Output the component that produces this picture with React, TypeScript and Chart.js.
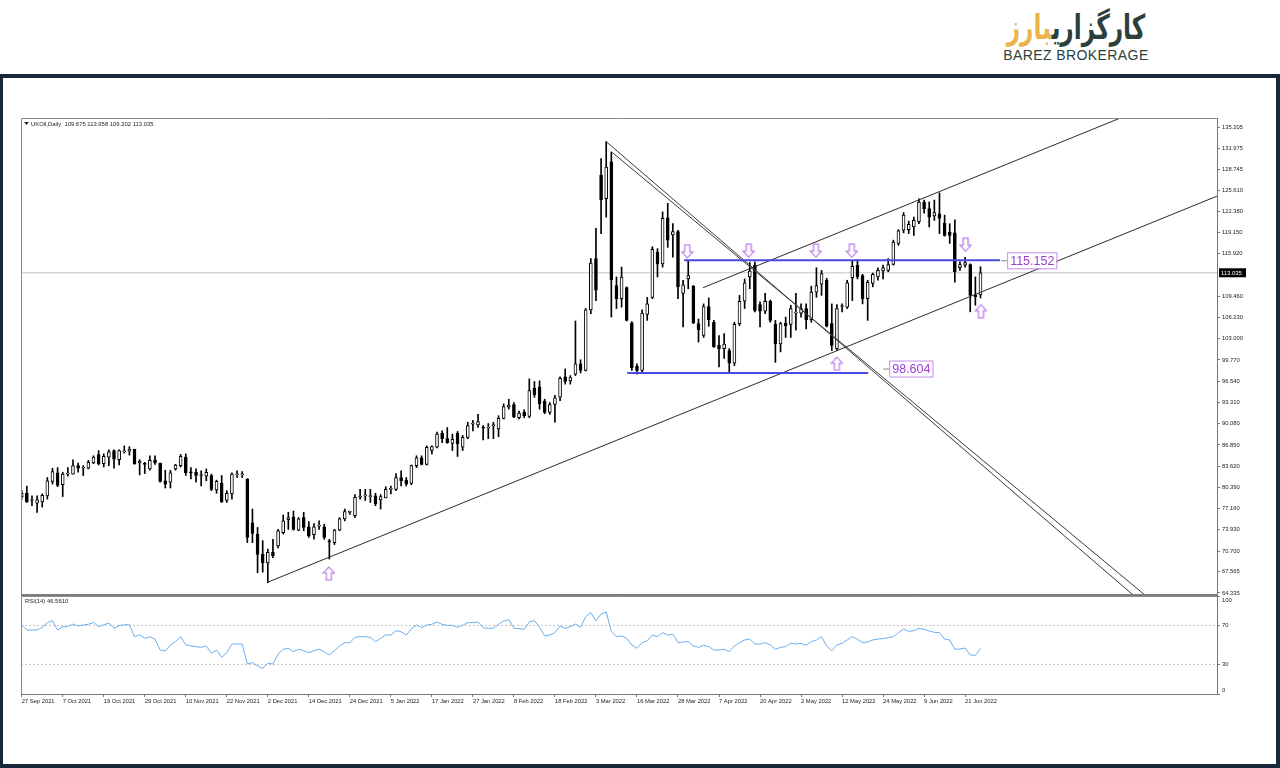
import React, { useEffect, useRef } from 'react';
import { Chart, registerables } from 'chart.js';
Chart.register(...registerables);

const FONT = '"Liberation Sans", Arial, sans-serif';

const opens = [79.0,79.5,78.4,78.0,78.2,79.1,81.3,82.6,80.8,82.4,
82.4,83.7,83.3,83.3,84.1,85.4,84.0,85.0,86.0,84.6,
85.8,85.9,86.2,84.1,84.0,83.2,84.6,84.1,81.4,81.2,
83.2,83.7,85.0,82.7,82.7,82.2,82.1,82.2,80.0,81.0,
78.4,79.4,82.3,82.3,81.7,75.0,73.3,70.2,68.9,70.5,
71.5,73.5,75.5,75.9,73.9,75.8,74.4,73.2,74.5,74.4,
72.2,72.0,73.9,75.6,76.6,76.1,78.9,79.1,79.0,79.1,
78.5,78.8,80.1,80.1,81.9,81.5,81.0,83.7,84.9,83.9,
86.0,86.5,88.6,87.8,87.1,88.6,86.5,88.0,90.0,89.9,
89.5,89.4,89.8,89.3,90.9,92.6,93.0,91.0,91.8,91.2,
95.5,95.7,93.5,91.8,93.0,94.1,97.2,96.6,97.6,99.2,
98.2,107.4,115.2,127.9,124.3,129.9,111.1,109.1,110.8,105.4,
98.8,98.2,106.7,109.3,116.2,114.4,121.4,118.8,119.3,109.9,
112.1,111.0,105.3,103.5,107.9,105.5,102.0,101.5,101.2,99.3,
105.3,108.7,112.4,114.2,108.2,107.2,108.7,105.2,102.2,105.4,
105.2,106.9,106.9,107.6,105.9,110.1,111.3,111.9,105.3,101.5,
107.9,107.8,112.3,114.2,112.6,109.1,111.4,112.4,113.3,113.4,
114.3,117.5,119.5,119.6,120.0,120.8,123.8,122.8,121.7,122.0,
120.6,119.2,119.1,113.8,114.2,114.3,109.7,109.675];

const highs = [79.9,80.6,79.1,79.1,79.4,81.9,83.3,83.4,82.7,83.4,
84.6,84.1,83.7,84.5,85.2,86.0,85.5,86.1,86.1,86.1,
86.7,86.6,86.2,84.6,84.2,85.2,85.2,84.1,83.0,83.0,
83.9,85.4,85.5,83.4,83.2,82.9,83.2,82.4,81.5,82.2,
79.9,82.6,82.9,82.8,81.7,77.1,74.3,72.3,71.0,72.5,
74.0,76.2,76.6,76.8,75.8,76.6,75.2,74.9,75.3,74.8,
72.5,74.0,75.8,77.1,76.8,79.3,80.1,80.1,80.1,79.5,
79.3,80.5,80.6,82.5,82.9,81.9,83.8,85.2,85.2,86.7,
86.7,88.8,89.0,89.5,88.5,88.9,88.3,90.3,90.6,91.5,
89.8,90.1,90.3,91.3,93.1,93.8,93.3,92.0,92.2,96.9,
96.5,96.6,93.8,93.3,94.4,97.2,98.4,97.4,105.7,99.8,
107.6,115.2,119.8,130.4,133.0,131.4,112.4,113.9,110.9,105.6,
99.2,107.4,109.3,117.0,116.7,122.3,123.6,120.5,119.5,111.9,
114.9,111.1,106.0,108.3,109.2,105.8,103.5,103.8,101.5,105.5,
109.6,112.1,114.6,114.7,108.6,109.9,108.9,105.8,105.5,106.3,
108.1,109.9,108.3,108.3,111.0,113.8,113.4,112.2,108.3,108.2,
108.3,111.9,114.8,115.0,112.8,111.9,113.0,113.8,114.2,115.2,
118.0,119.6,122.2,120.9,121.5,124.3,124.1,123.8,124.1,125.2,
121.8,120.5,121.1,114.7,115.4,114.4,112.4,113.958];

const lows = [78.6,78.1,77.6,76.6,77.4,78.6,80.9,80.5,79.0,82.1,
82.4,82.7,82.2,83.2,84.0,83.8,83.5,83.7,83.3,83.8,
85.6,85.3,83.9,82.3,82.5,83.0,83.9,81.2,80.3,80.3,
83.0,83.5,82.2,81.7,81.2,80.6,81.4,79.9,79.5,78.1,
78.1,78.6,81.9,81.9,72.0,72.0,67.4,67.5,65.9,69.7,
71.2,73.3,74.0,73.9,73.8,73.8,72.8,72.5,74.0,72.5,
69.5,71.7,73.8,75.3,76.3,75.8,78.6,78.4,78.1,77.6,
77.1,78.8,79.4,79.9,80.6,80.6,80.8,83.4,83.8,83.8,
85.5,86.4,87.2,87.1,86.0,85.1,86.0,87.8,89.0,89.5,
87.6,87.8,87.8,88.1,90.8,92.3,91.0,90.8,91.0,91.0,
94.1,92.3,91.6,91.5,90.3,93.6,96.1,96.1,97.4,97.8,
98.1,106.8,108.8,119.0,121.5,106.3,107.6,107.8,105.7,98.2,
97.6,97.7,105.8,109.1,112.4,113.9,116.9,115.4,109.1,104.8,
110.6,105.3,102.5,103.2,104.9,101.7,98.7,100.0,97.7,98.9,
105.0,107.6,110.6,107.1,104.8,106.8,105.5,99.4,101.0,103.2,
103.2,104.3,106.3,104.5,105.5,109.3,109.6,104.8,101.2,101.2,
107.1,107.6,108.8,112.1,108.3,105.8,110.9,111.9,112.1,113.2,
114.2,117.2,119.1,119.0,118.7,120.5,122.1,120.0,121.0,119.0,
118.6,117.5,111.6,113.4,113.9,107.1,108.1,109.202];

const closes = [79.5,78.2,78.5,78.5,79.2,81.4,82.8,80.7,82.4,82.5,
83.7,83.3,83.4,84.2,85.0,84.0,85.1,85.8,84.7,86.0,
85.9,86.2,84.0,84.4,83.9,84.5,84.1,81.3,80.9,82.6,
83.8,85.1,82.6,82.6,82.2,82.2,82.7,80.1,81.3,78.2,
79.5,82.4,82.4,82.4,72.8,73.4,70.2,68.9,70.5,70.0,
73.8,75.3,75.8,74.0,75.6,74.3,73.0,74.4,74.5,72.8,
72.1,73.9,75.6,76.7,76.6,78.9,79.0,79.1,79.1,77.9,
79.0,80.1,80.2,81.9,81.4,80.9,83.7,84.9,83.9,86.5,
86.6,88.5,87.8,87.2,87.7,87.0,88.0,89.8,90.1,90.4,
89.4,89.4,89.8,90.9,92.7,92.9,91.1,91.7,91.3,95.1,
94.5,93.1,91.8,93.0,94.0,97.0,96.5,97.1,99.2,98.2,
107.4,114.5,110.4,124.1,129.1,112.0,109.1,112.4,105.8,98.6,
98.2,106.9,108.3,116.6,114.4,121.3,118.0,119.3,110.9,111.2,
112.6,105.4,104.4,107.9,105.9,101.8,101.5,102.2,99.3,105.2,
108.7,111.5,113.3,107.3,107.2,108.7,105.8,102.2,105.3,105.0,
107.6,106.9,107.6,105.9,110.1,111.1,112.9,104.9,102.0,107.6,
108.0,111.5,114.0,112.4,109.1,111.6,112.8,113.4,113.8,114.3,
117.7,119.4,121.8,120.4,121.0,123.8,122.8,121.5,122.2,121.3,
118.7,118.7,113.2,114.3,114.6,109.6,109.4,113.035];

const rsiValues = [70.4,65.3,65.3,65.3,68.0,72.8,74.8,65.3,68.7,68.7,
71.4,69.4,70.4,71.1,73.1,68.7,70.7,72.4,67.0,69.7,
70.7,70.7,58.5,60.2,56.8,58.5,55.8,44.9,43.9,50.0,
53.4,58.5,50.0,49.0,48.3,47.6,49.0,41.5,44.9,37.4,
42.2,51.0,51.0,51.0,30.6,32.0,28.6,26.2,31.3,30.6,
40.8,45.6,46.6,43.2,45.6,44.2,42.2,44.2,45.6,43.2,
39.8,44.2,49.0,52.4,52.4,57.8,58.5,58.5,57.8,53.4,
56.8,60.2,60.2,64.6,63.6,60.2,66.5,70.4,67.7,70.4,
71.1,73.5,71.1,70.1,70.1,68.0,70.1,72.8,72.8,73.5,
67.7,67.0,67.0,71.1,74.5,75.9,67.0,66.7,66.0,73.5,
74.8,68.0,59.2,60.2,62.6,69.4,67.0,68.7,71.4,68.0,
78.9,83.0,74.8,81.6,83.7,63.6,58.5,59.2,56.8,50.0,
46.6,52.4,54.4,60.2,58.5,62.6,60.2,60.9,52.4,53.1,
53.4,49.0,47.6,49.7,48.3,44.9,44.9,45.6,43.2,49.0,
52.4,55.1,56.1,51.0,51.0,52.4,50.0,45.6,47.6,48.3,
51.7,51.0,51.7,49.7,53.4,55.1,58.5,49.0,44.2,50.0,
51.7,55.1,58.5,55.8,52.4,53.1,55.1,56.1,56.5,57.5,
58.5,62.6,66.3,63.9,64.6,67.0,66.0,64.3,62.9,62.6,
56.1,55.1,45.6,45.9,46.9,39.8,39.5,46.56];

const xTickBars = [0,8,16,24,32,40,48,56,64,72,80,88,96,104,112,120,128,136,144,152,160,168,176,184];
const xTickLabels = ['27 Sep 2021','7 Oct 2021','19 Oct 2021','29 Oct 2021','10 Nov 2021','22 Nov 2021','2 Dec 2021','14 Dec 2021','24 Dec 2021','5 Jan 2022','17 Jan 2022','27 Jan 2022','8 Feb 2022','18 Feb 2022','3 Mar 2022','16 Mar 2022','28 Mar 2022','7 Apr 2022','20 Apr 2022','2 May 2022','12 May 2022','24 May 2022','9 Jun 2022','21 Jun 2022'];
const priceTicks = [135.205,131.975,128.745,125.61,122.38,119.15,115.92,109.46,106.23,103.0,99.77,96.54,93.31,90.08,86.85,83.62,80.39,77.16,73.93,70.7,67.565,64.335];
const rsiTicks = [0,30,70,100];
const rsiLevels = [70,30];

const X_MIN = -0.14, X_MAX = 233.13;
const Y_MIN = 64.027, Y_MAX = 136.577;

const supportLine = [[48.04,65.99],[233.13,124.69]];
const channelTop = [[132.9,110.77],[233.13,142.55]];
const fallLineA = [[113.97,133.0],[219.8,62.0]];
const fallLineB = [[115.08,131.4],[222.2,62.0]];
const resistanceLevel = [[129.2,114.93],[190.8,114.93]];
const supportLevel = [[118.1,97.79],[165.1,97.79]];
const levelLabels = [{x:192.2,y:114.93,text:'115.152'},{x:169.2,y:98.47,text:'98.604'}];
const arrowsUp = [[59.9,67.3],[159.0,99.2],[187.1,107.2]];
const arrowsDown = [[129.8,116.3],[141.8,116.4],[154.9,116.4],[161.9,116.4],[184.1,117.3]];

const symbolTitle = 'UKOil,Daily  109.675 113.958 109.202 113.035';
const rsiTitle = 'RSI(14) 46.5610';
const lastClose = closes[closes.length - 1];

const pts = (arr: number[][]) => arr.map(([x, y]) => ({ x, y }));

function makeArrow(up: boolean): HTMLCanvasElement {
  const c = document.createElement('canvas');
  c.width = 13; c.height = 15;
  const g = c.getContext('2d')!;
  g.strokeStyle = '#b466e8';
  g.lineWidth = 1.1;
  const p = up
    ? [[6.5,1],[12,7],[9,7],[9,14],[4,14],[4,7],[1,7]]
    : [[6.5,14],[12,8],[9,8],[9,1],[4,1],[4,8],[1,8]];
  g.beginPath();
  p.forEach(([x, y], i) => (i ? g.lineTo(x, y) : g.moveTo(x, y)));
  g.closePath();
  g.stroke();
  return c;
}

const lineDs = (data: number[][], color: string, width: number, order: number) => ({
  type: 'line' as const, data: pts(data), borderColor: color, borderWidth: width,
  pointRadius: 0, fill: false, order, yAxisID: 'y',
});

const mainPlugin = {
  id: 'mainDecor',
  afterDraw(chart: any) {
    const { ctx, chartArea: a, scales } = chart;
    ctx.save();
    ctx.strokeStyle = '#8a8a8a';
    ctx.lineWidth = 1;
    ctx.beginPath();
    ctx.moveTo(a.left + 0.5, a.bottom);
    ctx.lineTo(a.left + 0.5, a.top + 0.5);
    ctx.lineTo(a.right, a.top + 0.5);
    ctx.stroke();
    ctx.fillStyle = '#7d7d7d';
    ctx.fillRect(a.left, a.bottom - 1, a.right - a.left + 1, 2);
    ctx.fillStyle = '#222';
    ctx.beginPath();
    ctx.moveTo(a.left + 3, a.top + 4);
    ctx.lineTo(a.left + 8, a.top + 4);
    ctx.lineTo(a.left + 5.5, a.top + 7);
    ctx.closePath();
    ctx.fill();
    ctx.font = '5.9px ' + FONT;
    ctx.textBaseline = 'middle';
    ctx.fillText(symbolTitle, a.left + 10, a.top + 6);
    const y = scales.y.getPixelForValue(lastClose);
    ctx.fillStyle = '#000';
    ctx.fillRect(a.right + 2, y - 4.5, 27, 9);
    ctx.fillStyle = '#fff';
    ctx.font = '5.9px ' + FONT;
    ctx.fillText(lastClose.toFixed(3), a.right + 4, y + 0.5);
    levelLabels.forEach((l) => {
      const lx = scales.x.getPixelForValue(l.x);
      const ly = scales.y.getPixelForValue(l.y);
      ctx.font = '12.5px ' + FONT;
      const w = ctx.measureText(l.text).width + 5;
      ctx.strokeStyle = '#888';
      ctx.beginPath();
      ctx.moveTo(lx - 6, ly + 0.5); ctx.lineTo(lx, ly + 0.5); ctx.stroke();
      ctx.fillStyle = '#fff';
      ctx.fillRect(lx, ly - 8, w, 16);
      ctx.strokeStyle = '#c58ee9';
      ctx.strokeRect(lx + 0.5, ly - 7.5, w, 16);
      ctx.fillStyle = '#9b3fd4';
      ctx.textBaseline = 'middle';
      ctx.fillText(l.text, lx + 3, ly + 1);
    });
    ctx.restore();
  },
};

const rsiPlugin = {
  id: 'rsiDecor',
  afterDraw(chart: any) {
    const { ctx, chartArea: a, scales } = chart;
    ctx.save();
    ctx.strokeStyle = '#8a8a8a';
    ctx.lineWidth = 1;
    ctx.beginPath();
    ctx.moveTo(a.left + 0.5, a.bottom);
    ctx.lineTo(a.left + 0.5, a.top + 0.5);
    ctx.lineTo(a.right, a.top + 0.5);
    ctx.stroke();
    ctx.fillStyle = '#222';
    ctx.font = '5.9px ' + FONT;
    ctx.textBaseline = 'middle';
    ctx.fillText(rsiTitle, a.left + 4, a.top + 5);
    // edge labels (kept inside the panel, as the terminal does)
    ctx.fillText(String(rsiTicks[rsiTicks.length - 1]), a.right + 5, scales.y.getPixelForValue(rsiTicks[rsiTicks.length - 1]) + 4);
    ctx.fillText(String(rsiTicks[0]), a.right + 5, scales.y.getPixelForValue(rsiTicks[0]) - 4);
    ctx.restore();
  },
};

export default function App() {
  const mainRef = useRef<HTMLCanvasElement>(null);
  const rsiRef = useRef<HTMLCanvasElement>(null);

  useEffect(() => {
    const upArrow = makeArrow(true);
    const downArrow = makeArrow(false);
    const idx = closes.map((_, i) => i);
    const tickFont = { size: 5.8, family: FONT };

    const main = new Chart(mainRef.current!, {
      type: 'bar',
      data: {
        datasets: [
          {
            type: 'bar', order: 0, grouped: false, clip: 0,
            data: idx.map((i) => ({ x: i, y: [opens[i], closes[i]] })),
            backgroundColor: idx.map((i) => (closes[i] >= opens[i] ? '#ffffff' : '#000000')),
            borderColor: '#000', borderWidth: 1, borderSkipped: false,
            barThickness: 3, minBarLength: 1,
          } as any,
          {
            type: 'bar', order: 1, grouped: false, clip: 0,
            data: idx.map((i) => ({ x: i, y: [lows[i], highs[i]] })),
            backgroundColor: '#000', borderWidth: 0, barThickness: 1,
          } as any,
          lineDs([[X_MIN, lastClose], [X_MAX, lastClose]], '#c4c4c4', 1, 3),
          lineDs(supportLine, '#2a2a2a', 1, -1),
          lineDs(channelTop, '#2a2a2a', 1, -1),
          lineDs(fallLineA, '#3a3a3a', 1, -1),
          lineDs(fallLineB, '#3a3a3a', 1, -1),
          lineDs(resistanceLevel, '#4848e2', 2, -2),
          lineDs(supportLevel, '#4848e2', 2, -2),
          {
            type: 'line', showLine: false, order: -3, data: pts(arrowsUp),
            pointStyle: upArrow, pointRadius: 7,
          } as any,
          {
            type: 'line', showLine: false, order: -3, data: pts(arrowsDown),
            pointStyle: downArrow, pointRadius: 7,
          } as any,
        ],
      },
      options: {
        responsive: false,
        animation: false,
        events: [],
        layout: { padding: { left: 21, top: 8, right: 0, bottom: 0 } },
        plugins: { legend: { display: false }, tooltip: { enabled: false } },
        scales: {
          x: { type: 'linear', min: X_MIN, max: X_MAX, offset: false, display: false },
          y: {
            type: 'linear', position: 'right', min: Y_MIN, max: Y_MAX,
            afterBuildTicks: (s: any) => { s.ticks = priceTicks.map((v) => ({ value: v })); },
            afterFit: (s: any) => { s.width = 48; s.paddingTop = 0; s.paddingBottom = 0; },
            grid: { drawOnChartArea: false, drawTicks: true, tickLength: 3, color: '#777' },
            border: { display: true, color: '#777' },
            ticks: { color: '#222', font: tickFont, padding: 2, callback: (v: any) => Number(v).toFixed(3) },
          },
        },
      } as any,
      plugins: [mainPlugin],
    });

    const rsi = new Chart(rsiRef.current!, {
      type: 'line',
      data: {
        datasets: [
          {
            data: rsiValues.map((v, i) => ({ x: i, y: v })),
            borderColor: '#6aaeee', borderWidth: 1, pointRadius: 0, fill: false, order: 0,
          },
          ...rsiLevels.map((lv) => ({
            data: [{ x: X_MIN, y: lv }, { x: X_MAX, y: lv }],
            borderColor: '#c4c4c4', borderWidth: 1, borderDash: [2, 2], pointRadius: 0, order: 1,
          })),
        ],
      },
      options: {
        responsive: false,
        animation: false,
        events: [],
        layout: { padding: { left: 21, top: 8, right: 0, bottom: 0 } },
        plugins: { legend: { display: false }, tooltip: { enabled: false } },
        scales: {
          x: {
            type: 'linear', min: X_MIN, max: X_MAX, offset: false,
            afterBuildTicks: (s: any) => { s.ticks = xTickBars.map((v) => ({ value: v })); },
            afterFit: (s: any) => { s.height = 14; s.paddingLeft = 0; s.paddingRight = 0; },
            grid: { drawOnChartArea: false, drawTicks: true, tickLength: 3, color: '#777' },
            border: { display: true, color: '#777' },
            ticks: {
              autoSkip: false, maxRotation: 0, minRotation: 0, align: 'start', padding: 1,
              color: '#222', font: tickFont,
              callback: (_v: any, i: number) => xTickLabels[i],
            },
          },
          y: {
            type: 'linear', position: 'right', min: 0, max: 100,
            afterBuildTicks: (s: any) => { s.ticks = rsiTicks.map((v) => ({ value: v })); },
            afterFit: (s: any) => { s.width = 48; s.paddingTop = 0; s.paddingBottom = 0; },
            grid: { drawOnChartArea: false, drawTicks: true, tickLength: 3, color: '#777' },
            border: { display: true, color: '#777' },
            ticks: {
              color: '#222', font: tickFont, padding: 2,
              callback: (v: any) => (v === 0 || v === 100 ? '' : String(v)),
            },
          },
        },
      } as any,
      plugins: [rsiPlugin],
    });

    return () => { main.destroy(); rsi.destroy(); };
  }, []);

  return (
    <div style={{ position: 'absolute', left: 0, top: 0, width: 1280, height: 768, background: '#fff', overflow: 'hidden' }}>
      <div style={{ position: 'absolute', left: 976, top: 7, width: 200, textAlign: 'center' }}>
        <div dir="rtl" style={{ fontFamily: '"DejaVu Sans", sans-serif', fontWeight: 'bold', fontSize: 28, lineHeight: '34px', height: 34, whiteSpace: 'nowrap', transform: 'scale(0.83, 1.22)', transformOrigin: 'center top' }}>
          <span style={{ color: '#2c3f3b' }}>کارگزاری</span><span style={{ color: '#ebb54c' }}>بارز</span>
        </div>
        <div style={{ fontFamily: '"Liberation Sans Narrow", "Liberation Sans", sans-serif', fontSize: 14, lineHeight: '15px', color: '#2c3f3b', letterSpacing: 0.4, whiteSpace: 'nowrap', marginTop: 7, fontWeight: 500 }}>
          BAREZ BROKERAGE
        </div>
      </div>
      <div style={{ position: 'absolute', left: 0, top: 74, width: 1280, height: 694, boxSizing: 'border-box', borderStyle: 'solid', borderColor: '#16283a', borderWidth: '4px 4px 4px 3px' }} />
      <canvas ref={mainRef} width={1265} height={493} style={{ position: 'absolute', left: 0, top: 110, display: 'block' }} />
      <canvas ref={rsiRef} width={1265} height={120} style={{ position: 'absolute', left: 0, top: 588, display: 'block' }} />
    </div>
  );
}
